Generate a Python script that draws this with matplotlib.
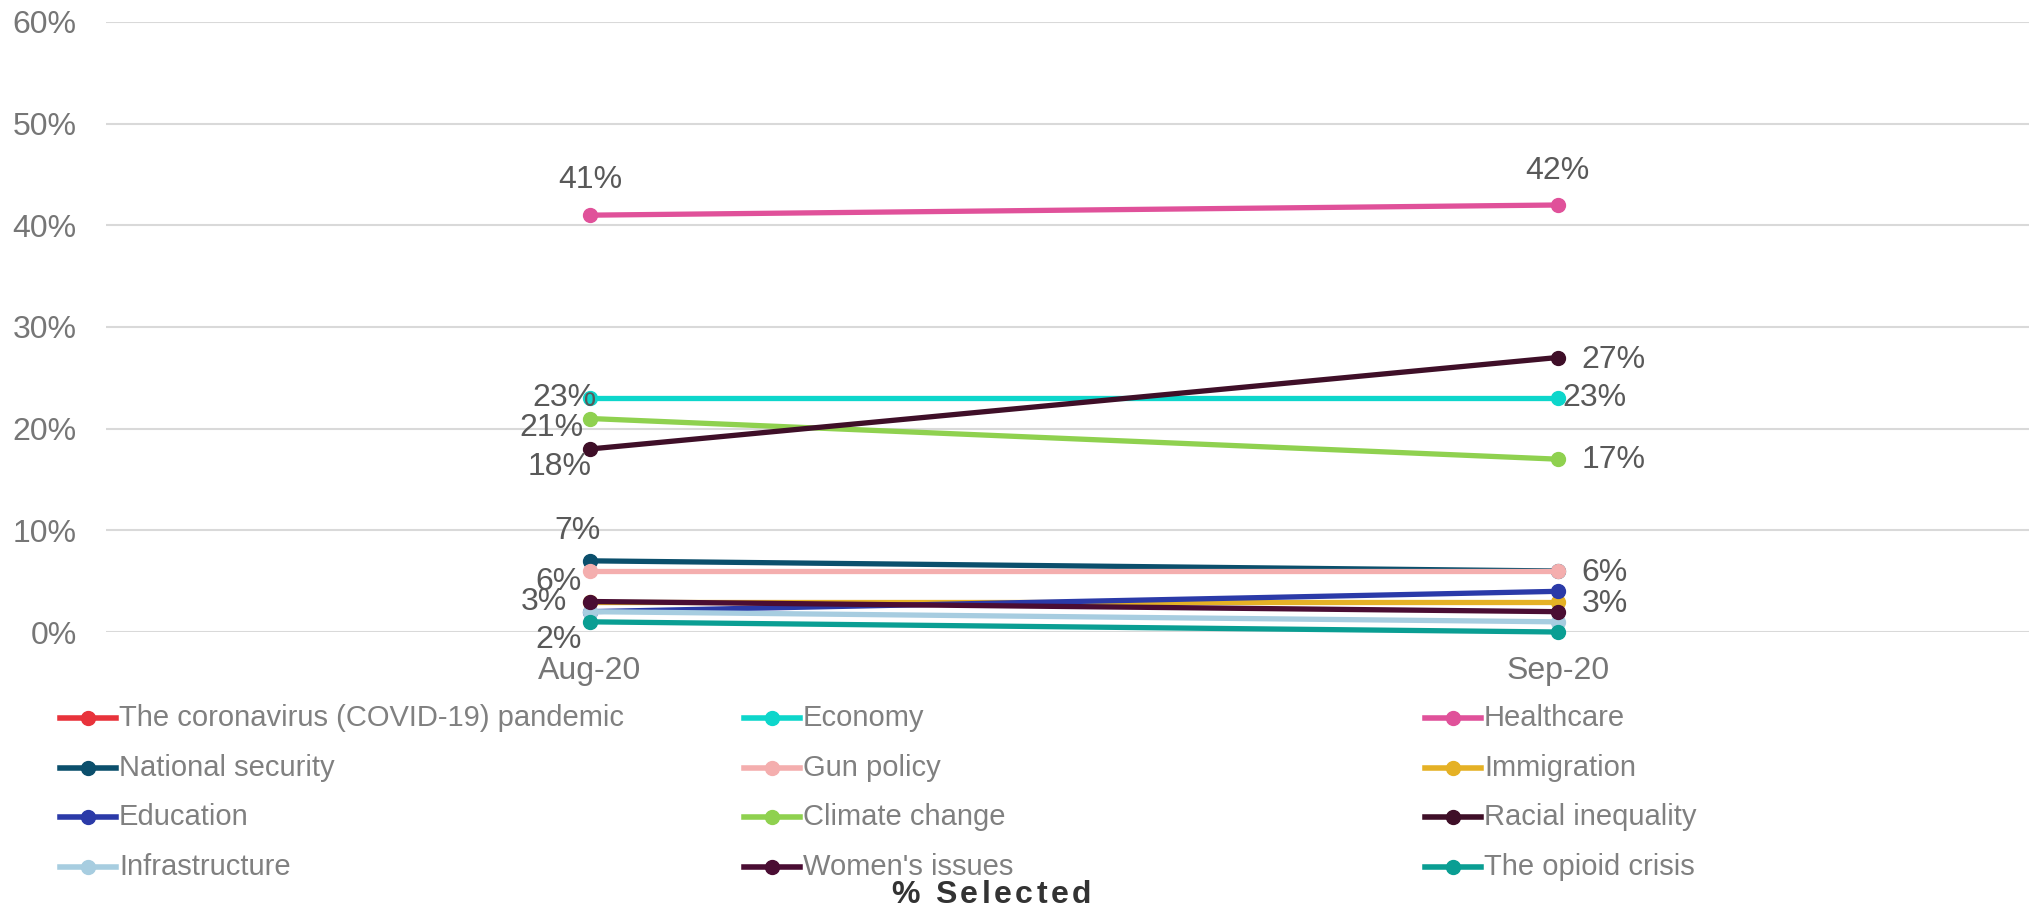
import numpy as np
import matplotlib
matplotlib.use("Agg")
import matplotlib.pyplot as plt
from matplotlib.lines import Line2D

plt.rcParams["font.family"] = ["Liberation Sans", "DejaVu Sans"]

# data
months = ["Aug-20", "Sep-20"]
topics = ["The coronavirus (COVID-19) pandemic", "Economy", "Healthcare",
          "National security", "Gun policy", "Immigration",
          "Education", "Climate change", "Racial inequality",
          "Infrastructure", "Women's issues", "The opioid crisis"]
covid = [np.nan, np.nan]
economy = [0.23, 0.23]
healthcare = [0.41, 0.42]
national_security = [0.07, 0.06]
gun_policy = [0.06, 0.06]
immigration = [0.03, 0.03]
education = [0.02, 0.04]
climate_change = [0.21, 0.17]
racial_inequality = [0.18, 0.27]
infrastructure = [0.02, 0.01]
womens_issues = [0.03, 0.02]
opioid_crisis = [0.01, 0.00]

series = [covid, economy, healthcare, national_security, gun_policy, immigration,
          education, climate_change, racial_inequality, infrastructure,
          womens_issues, opioid_crisis]
colors = ["#e8333b", "#0dd6cb", "#e0519a", "#0b4f6c", "#f4aeae", "#e5b125",
          "#2b3aa8", "#8fd14f", "#3f0f28", "#a7cde0", "#4a0d33", "#0a9e93"]

# data label placement: topic -> [(dx, dy, ha) for Aug, for Sep] in pixels
label_pos = {
    "Healthcare": [(0, 35, "center"), (0, 34, "center")],
    "Economy": [(7, 0, "right"), (5, 0, "left")],
    "Climate change": [(-6, -10, "right"), (24, -1, "left")],
    "Racial inequality": [(2, -18, "right"), (24, -2, "left")],
    "National security": [(-12, 30, "center"), None],
    "Gun policy": [(-8, -11, "right"), (24, -2, "left")],
    "Immigration": [(-23, 0, "right"), (24, -3, "left")],
    "Infrastructure": [(-8, -28, "right"), None],
}

W, H = 2029, 908
fig = plt.figure(figsize=(W / 100, H / 100), dpi=100)
ax = fig.add_axes([106 / W, 1 - 632 / H, 1 - 106 / W, 610 / H])

x = np.arange(len(months))
for name, vals, c in zip(topics, series, colors):
    ax.plot(x, vals, color=c, lw=3.8, marker="o", ms=10, clip_on=False,
            solid_capstyle="round")
    if name in label_pos:
        for i, pos in enumerate(label_pos[name]):
            if pos is None:
                continue
            dx, dy, ha = pos
            ax.annotate(f"{vals[i] * 100:.0f}%", (x[i], vals[i]), xytext=(dx, dy),
                        textcoords="offset pixels", ha=ha, va="center",
                        fontsize=23, color="#595959")

ax.set_xlim(-0.5, 1.487)
ax.set_ylim(0, 0.6)
ax.set_yticks(np.arange(0, 0.61, 0.1))
ax.set_yticklabels([f"{v}%" for v in range(0, 61, 10)])
ax.set_xticks(x)
ax.set_xticklabels(months)
ax.tick_params(length=0, labelsize=23, colors="#767676")
ax.tick_params(axis="x", pad=17)
ax.tick_params(axis="y", pad=21)
ax.grid(axis="y", color="#d9d9d9", lw=1.5)
ax.set_axisbelow(True)
for s in ax.spines.values():
    s.set_visible(False)

# legend, 3 columns filled row by row
col_x = [60, 744, 1425]
row_y = [718, 768, 817, 867]
for k, (name, c) in enumerate(zip(topics, colors)):
    cx = col_x[k % 3]
    ry = 1 - row_y[k // 3] / H
    fig.add_artist(Line2D([cx / W, (cx + 56) / W], [ry, ry], color=c, lw=4,
                          transform=fig.transFigure))
    fig.add_artist(Line2D([(cx + 28) / W], [ry], color=c, marker="o", ms=10,
                          transform=fig.transFigure))
    fig.text((cx + 59) / W, ry, name, fontsize=21, color="#808080",
             ha="left", va="center")

# axis title with letter spacing
title = "% Selected"
spacing = 3.5
renderer = fig.canvas.get_renderer()
widths = []
for ch in title:
    t = fig.text(0, 0, ch if ch != " " else "\u00a0", fontsize=23, fontweight="bold")
    widths.append(t.get_window_extent(renderer).width)
    t.remove()
total = sum(widths) + spacing * (len(title) - 1)
px = 991 - total / 2
for ch, w in zip(title, widths):
    if ch != " ":
        fig.text(px / W, 1 - 895 / H, ch, fontsize=23, fontweight="bold",
                 color="#333333", ha="left", va="center")
    px += w + spacing

fig.savefig("out.png", dpi=100)
